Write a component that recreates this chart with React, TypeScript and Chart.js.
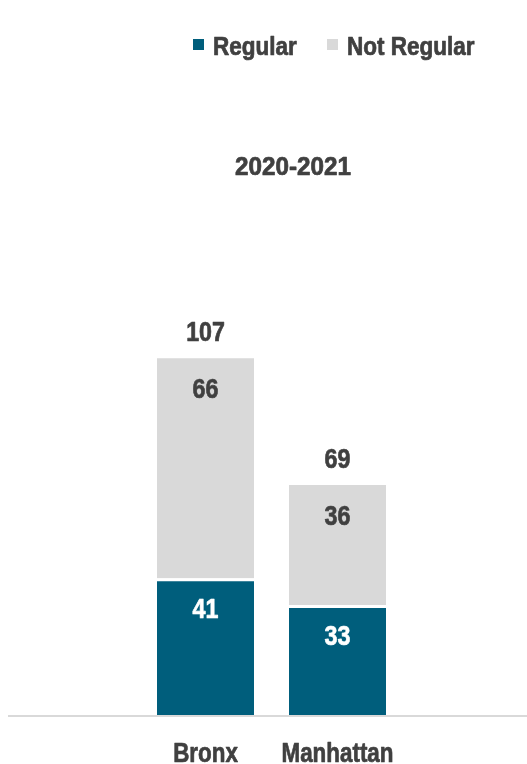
import React, { useEffect, useRef } from 'react';
import { Chart, registerables } from 'chart.js';

Chart.register(...registerables);

const categories = ['Bronx', 'Manhattan'];
const regular = [41, 33];
const notRegular = [66, 36];
const totals = [107, 69];
const chartTitle = '2020-2021';
const seriesNames = ['Regular', 'Not Regular'];
const seriesColors = ['#005E7C', '#D9D9D9'];
const labelColors = ['#FFFFFF', '#404040'];

const FONT = '"Liberation Sans", Arial, sans-serif';
const TEXT = '#404040';

function drawText(
  ctx: CanvasRenderingContext2D,
  s: string,
  x: number,
  yCenter: number,
  size: number,
  sx: number,
  align: CanvasTextAlign,
  color: string
) {
  ctx.save();
  ctx.font = `bold ${size}px ${FONT}`;
  ctx.textBaseline = 'alphabetic';
  ctx.textAlign = align;
  ctx.fillStyle = color;
  ctx.strokeStyle = color;
  ctx.lineWidth = 0.7;
  ctx.lineJoin = 'round';
  ctx.translate(x, yCenter + 0.358 * size);
  ctx.scale(sx, 1);
  ctx.fillText(s, 0, 0);
  ctx.strokeText(s, 0, 0);
  ctx.restore();
}

const overlay = {
  id: 'overlay',
  afterDraw(chart: any) {
    const ctx = chart.ctx as CanvasRenderingContext2D;
    const x = chart.scales.x;
    const y = chart.scales.y;
    ctx.save();
    const base = y.getPixelForValue(0);
    ctx.strokeStyle = '#D9D9D9';
    ctx.lineWidth = 2;
    ctx.beginPath();
    ctx.moveTo(8, base + 1);
    ctx.lineTo(chart.width, base + 1);
    ctx.stroke();
    ctx.restore();

    chart.data.datasets.forEach((ds: any, di: number) => {
      const meta = chart.getDatasetMeta(di);
      meta.data.forEach((el: any, i: number) => {
        drawText(ctx, String(ds.data[i]), el.x, el.y + 30, 27, 0.86, 'center', labelColors[di]);
      });
    });
    const top = chart.getDatasetMeta(chart.data.datasets.length - 1);
    top.data.forEach((el: any, i: number) => {
      drawText(ctx, String(totals[i]), el.x, el.y - 27, 27, 0.86, 'center', TEXT);
    });
    categories.forEach((c, i) => {
      drawText(ctx, c, x.getPixelForValue(i), 752, 28, 0.8, 'center', TEXT);
    });
    drawText(ctx, chartTitle, 293, 166, 25, 0.97, 'center', TEXT);

    const lx = [193, 327];
    seriesNames.forEach((n, i) => {
      ctx.fillStyle = seriesColors[i];
      ctx.fillRect(lx[i], 39, 11, 11);
      drawText(ctx, n, lx[i] + 20, 46, 25, 0.9, 'left', TEXT);
    });
  },
};

export default function App() {
  const ref = useRef<HTMLCanvasElement>(null);
  useEffect(() => {
    if (!ref.current) return;
    const chart = new Chart(ref.current, {
      type: 'bar',
      data: {
        labels: categories,
        datasets: [
          {
            label: seriesNames[0],
            data: regular,
            backgroundColor: seriesColors[0],
            borderColor: '#FFFFFF',
            borderWidth: { top: 3, left: 0, right: 0, bottom: 0 },
            borderSkipped: 'start',
            barPercentage: 0.735,
            categoryPercentage: 1,
          },
          {
            label: seriesNames[1],
            data: notRegular,
            backgroundColor: seriesColors[1],
            borderWidth: 0,
            barPercentage: 0.735,
            categoryPercentage: 1,
          },
        ],
      },
      options: {
        animation: false,
        responsive: true,
        maintainAspectRatio: false,
        layout: { padding: { left: 139.5, right: 123.5, top: 48, bottom: 49 } },
        plugins: {
          legend: { display: false },
          title: { display: false },
          tooltip: { enabled: false },
        },
        scales: {
          x: { stacked: true, display: false },
          y: { stacked: true, display: false, min: 0, max: 200 },
        },
      },
      plugins: [overlay],
    });
    return () => chart.destroy();
  }, []);
  return (
    <div style={{ position: 'absolute', left: 0, top: 0, width: 527, height: 764 }}>
      <canvas ref={ref} />
    </div>
  );
}
